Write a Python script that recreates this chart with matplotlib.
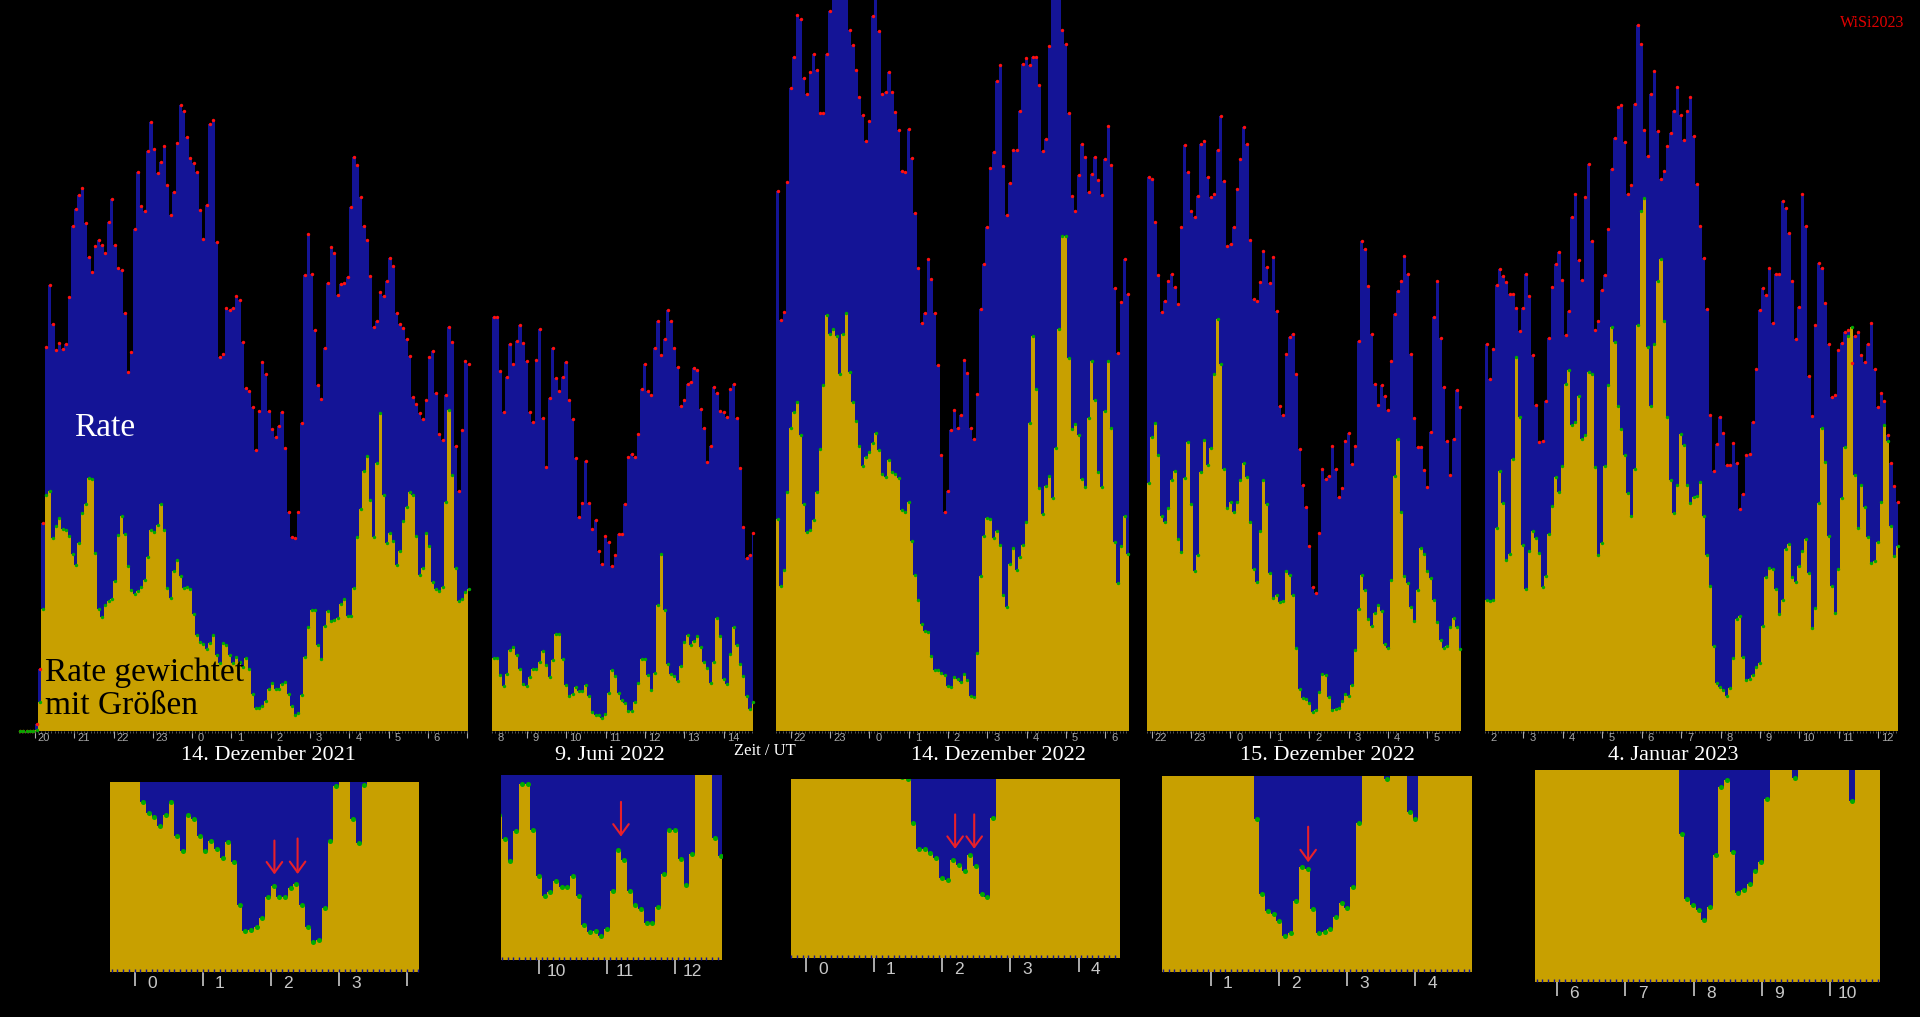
import numpy as np
import matplotlib
matplotlib.use("Agg")
import matplotlib.pyplot as plt

# Farben
BLAU = "#141496"
GELB = "#c8a000"
ROT = "#ff1010"
GRUEN = "#00aa00"
GRAU = "#a8a8a8"
PFEIL = "#e8202a"

BIN = 1 / 12  # 5-Minuten-Intervalle, Zeit in Stunden UT (fortlaufend ueber Mitternacht)

# 14. Dezember 2021 (Beginn 19:35 UT)
start_1 = 19.58
rate_1 = [0, 0, 0, 0, 0,
          15, 127, 429, 792, 919, 839, 785, 800, 787, 797,
          895, 1041, 1077, 1104, 1120, 1047, 977, 947, 999, 1013,
          1002, 986, 1050, 1097, 1001, 955, 950, 862, 741, 782,
          1035, 1152, 1082, 1071, 1196, 1255, 1199, 1150, 1174, 1205,
          1126, 1063, 1111, 1212, 1291, 1279, 1224, 1181, 1170, 1152,
          1074, 1015, 1085, 1251, 1259, 1009, 772, 778, 872, 867,
          873, 896, 888, 802, 708, 701, 667, 580, 660, 761,
          736, 659, 622, 607, 629, 658, 583, 452, 400, 398,
          451, 634, 941, 1025, 942, 826, 714, 685, 789, 924,
          998, 985, 899, 921, 923, 936, 1081, 1184, 1166, 1100,
          1042, 1013, 938, 832, 845, 906, 896, 927, 975, 959,
          862, 840, 830, 809, 773, 689, 674, 655, 643, 682,
          770, 784, 697, 612, 599, 692, 832, 802, 587, 495,
          620, 762, 757]
gew_1 = [0, 0, 0, 0, 0,
         2, 60, 252, 487, 495, 397, 422, 439, 417, 414,
         402, 364, 342, 387, 449, 467, 522, 519, 367, 252,
         234, 259, 269, 272, 309, 404, 444, 407, 340, 290,
         282, 289, 297, 311, 359, 414, 410, 424, 467, 414,
         294, 274, 329, 352, 319, 294, 297, 292, 242, 197,
         184, 179, 169, 182, 197, 157, 140, 182, 177, 157,
         140, 152, 142, 132, 150, 127, 77, 47, 48, 52,
         62, 87, 99, 87, 87, 97, 102, 77, 52, 34,
         37, 74, 152, 215, 249, 249, 177, 149, 217, 247,
         227, 229, 232, 262, 272, 237, 237, 295, 399, 457,
         537, 567, 477, 399, 552, 655, 487, 387, 409, 392,
         342, 372, 432, 462, 492, 487, 402, 322, 337, 409,
         382, 307, 292, 289, 297, 472, 662, 527, 337, 267,
         272, 287, 292]

# 9. Juni 2022 (Beginn 8:07 UT)
start_2 = 8.12
rate_2 = [853, 853,
          742, 658, 729, 797, 757, 805, 837, 800, 763, 658,
          636, 765, 828, 645, 544, 687, 790, 728, 700, 730,
          761, 683, 643, 563, 442, 471, 556, 471, 417, 435,
          372, 344, 402, 390, 341, 362, 407, 406, 468, 565,
          571, 565, 613, 706, 757, 701, 693, 789, 846, 775,
          809, 867, 845, 789, 751, 671, 682, 716, 719, 748,
          745, 663, 625, 554, 588, 710, 696, 660, 658, 648,
          705, 716, 645, 543, 420, 357, 362, 408]
gew_2 = [150, 150, 115, 93, 118, 167, 173, 157, 127, 97,
         92, 112, 127, 128, 143, 165, 137, 112, 147, 200,
         200, 148, 95, 73, 77, 90, 83, 83, 95, 73,
         40, 32, 33, 27, 35, 78, 125, 113, 78, 63,
         58, 42, 42, 60, 98, 148, 148, 115, 85, 120,
         260, 365, 250, 138, 118, 113, 103, 133, 183, 198,
         177, 185, 195, 173, 143, 130, 98, 143, 233, 195,
         107, 97, 158, 215, 178, 138, 113, 73, 45, 60]

# 14. Dezember 2022 (Beginn 21:37 UT)
start_3 = 21.62
rate_3 = [1113, 848, 864, 1131, 1325, 1389, 1477, 1467, 1347, 1314,
          1358, 1395, 1362, 1274, 1275, 1395, 1485, 1540, 1600, 1650,
          1580, 1560, 1445, 1415, 1363, 1306, 1270, 1217, 1257, 1473,
          1530, 1443, 1314, 1318, 1359, 1318, 1276, 1238, 1155, 1153,
          1242, 1182, 1068, 955, 841, 861, 974, 931, 862, 754,
          568, 452, 495, 621, 661, 625, 652, 765, 738, 625,
          601, 695, 870, 963, 1040, 1160, 1193, 1340, 1372, 1164,
          1063, 1129, 1198, 1198, 1278, 1375, 1387, 1372, 1389, 1390,
          1332, 1195, 1220, 1413, 1560, 1620, 1550, 1446, 1417, 1274,
          1102, 1073, 1147, 1211, 1183, 1112, 1149, 1183, 1135, 1104,
          1179, 1248, 1167, 913, 779, 885, 973, 901]
gew_3 = [437, 298, 332, 492, 625, 658, 678, 610, 467, 410,
         415, 435, 492, 582, 713, 857, 819, 829, 815, 735,
         819, 862, 740, 679, 639, 588, 546, 564, 575, 593,
         615, 579, 530, 524, 558, 533, 530, 522, 455, 452,
         473, 392, 322, 270, 220, 207, 205, 155, 125, 125,
         120, 115, 92, 90, 112, 107, 100, 118, 105, 73,
         70, 160, 320, 402, 439, 437, 398, 412, 383, 280,
         255, 345, 377, 332, 359, 383, 430, 634, 814, 705,
         500, 448, 505, 525, 480, 583, 828, 1020, 1021, 768,
         622, 632, 610, 520, 502, 645, 762, 683, 533, 502,
         660, 763, 625, 390, 305, 382, 443, 365]

# 15. Dezember 2022 (Beginn 21:53 UT)
start_4 = 21.88
rate_4 = [1142, 1137, 1050, 940, 864, 886, 927, 943, 916, 880,
          1038, 1209, 1153, 1073, 1059, 1103, 1210, 1217, 1143, 1100,
          1107, 1197, 1267, 1133, 999, 1004, 1039, 1118, 1179, 1245,
          1210, 1012, 891, 886, 926, 989, 957, 924, 978, 866,
          669, 652, 778, 813, 818, 736, 582, 508, 462, 382,
          297, 285, 408, 541, 520, 525, 587, 541, 483, 500,
          598, 614, 550, 588, 804, 1011, 994, 917, 819, 716,
          673, 713, 690, 662, 763, 860, 907, 927, 980, 942,
          777, 646, 586, 586, 538, 502, 616, 854, 927, 811,
          710, 597, 528, 602, 702, 667]
gew_4 = [512, 607, 635, 568, 443, 430, 460, 518, 535, 395,
         368, 522, 595, 469, 330, 363, 534, 600, 548, 583,
         737, 850, 757, 540, 460, 472, 452, 472, 518, 553,
         523, 430, 335, 308, 412, 518, 468, 325, 275, 280,
         265, 268, 330, 322, 280, 172, 87, 68, 65, 57,
         40, 43, 80, 118, 115, 70, 43, 45, 48, 62,
         77, 72, 95, 167, 252, 322, 290, 230, 217, 243,
         260, 247, 180, 172, 312, 525, 603, 452, 319, 305,
         255, 227, 290, 377, 365, 330, 315, 270, 225, 188,
         172, 175, 215, 233, 215, 170]

# 4. Januar 2023 (Beginn 2:02 UT)
start_5 = 2.03
rate_5 = [798, 725, 788, 920, 953, 938, 926, 900, 901, 873,
          825, 873, 943, 896, 776, 673, 595, 597, 681, 810,
          916, 962, 987, 930, 817, 865, 1060, 1108, 972, 930,
          1100, 1168, 1010, 827, 846, 910, 941, 1035, 1158, 1223,
          1286, 1290, 1215, 1107, 1125, 1293, 1455, 1416, 1240, 1185,
          1313, 1360, 1237, 1138, 1155, 1207, 1233, 1278, 1328, 1270,
          1218, 1278, 1308, 1226, 1128, 1041, 975, 869, 651, 535,
          591, 647, 615, 548, 548, 593, 553, 458, 489, 568,
          571, 637, 746, 867, 913, 898, 955, 842, 943, 942,
          1093, 1078, 1027, 928, 808, 875, 1107, 1041, 731, 650,
          836, 965, 955, 883, 798, 688, 692, 786, 800, 822,
          827, 758, 815, 823, 775, 761, 797, 841, 747, 668,
          696, 680, 610, 553, 505, 473]
gew_5 = [270, 268, 271, 418, 535, 471, 353, 365, 561, 771,
         648, 383, 293, 371, 413, 398, 366, 296, 320, 406,
         463, 523, 493, 546, 715, 745, 630, 638, 691, 601,
         610, 740, 736, 545, 363, 388, 546, 713, 833, 801,
         671, 623, 568, 490, 443, 541, 838, 1071, 1098, 791,
         671, 798, 928, 973, 846, 648, 518, 450, 508, 613,
         590, 508, 471, 483, 485, 513, 443, 363, 298, 175,
         98, 91, 85, 73, 88, 150, 230, 238, 153, 105,
         108, 115, 131, 141, 216, 318, 336, 335, 293, 241,
         270, 376, 385, 318, 308, 341, 371, 395, 325, 213,
         253, 470, 625, 555, 403, 298, 243, 333, 480, 586,
         815, 833, 528, 418, 508, 461, 400, 346, 351, 390,
         473, 631, 598, 423, 361, 381]

titles = ["14. Dezember 2021", "9. Juni 2022", "14. Dezember 2022",
          "15. Dezember 2022", "4. Januar 2023"]

# Stundenmarken oben
ticks_top = [list(range(20, 32)), list(range(8, 15)), list(range(22, 31)),
             list(range(22, 30)), list(range(2, 13))]
labels_top = [["20", "21", "22", "23", "0", "1", "2", "3", "4", "5", "6", ""],
              ["8", "9", "10", "11", "12", "13", "14"],
              ["22", "23", "0", "1", "2", "3", "4", "5", "6"],
              ["22", "23", "0", "1", "2", "3", "4", "5"],
              ["2", "3", "4", "5", "6", "7", "8", "9", "10", "11", "12"]]

# Stundenmarken der Ausschnitte
ticks_zoom = [[24, 25, 26, 27, 28], [10, 11, 12], [24, 25, 26, 27, 28],
              [25, 26, 27, 28], [6, 7, 8, 9, 10]]
labels_zoom = [["0", "1", "2", "3", ""], ["10", "11", "12"],
               ["0", "1", "2", "3", "4"], ["1", "2", "3", "4"],
               ["6", "7", "8", "9", "10"]]

# Pfeile in den Ausschnitten (Zeitpunkte in h)
pfeile = [[26.05, 26.39], [11.2], [26.19, 26.47], [26.43], []]

starts = [start_1, start_2, start_3, start_4, start_5]
rates = [rate_1, rate_2, rate_3, rate_4, rate_5]
gews = [gew_1, gew_2, gew_3, gew_4, gew_5]

# Layout in Pixeln
W, H = 1920, 1017
top_boxes = [(18.5, 449.5), (492, 260.7), (776, 352.7), (1147, 313.7), (1485, 412.7)]
top_xlim = [(19.58, 31.02), (8.12, 14.73), (21.62, 30.6), (21.88, 29.85), (2.03, 12.49)]
zoom_boxes = [(109.8, 782, 309.4, 189.7), (500.8, 775, 220.8, 185),
              (791.1, 779, 328.8, 179.3), (1161.6, 776, 310.9, 195.7),
              (1535, 770, 345, 211.7)]
zoom_xlim = [(23.634, 28.175), (9.436, 12.677), (23.784, 28.607),
             (24.278, 28.843), (5.673, 10.733)]
zoom_ytop = [220, 210, 205, 220, 250]
pfeil_y = [[(0.706, 0.498), (0.717, 0.5)], [(0.87, 0.652)],
           [(0.818, 0.595), (0.818, 0.595)], [(0.755, 0.545)], []]
title_x = [268, 610, 998, 1327, 1673]

fig = plt.figure(figsize=(W / 100, H / 100), dpi=100, facecolor="black")


def px_axes(left, top, width, height):
    ax = fig.add_axes([left / W, 1 - (top + height) / H, width / W, height / H])
    ax.set_facecolor("black")
    for s in ax.spines.values():
        s.set_visible(False)
    ax.set_yticks([])
    return ax


def draw(ax, start, rate, gew, size, clip):
    rate = np.asarray(rate, float)
    gew = np.asarray(gew, float)
    edges = start + BIN * np.arange(len(rate) + 1)
    mid = edges[:-1] + BIN / 2
    ax.stairs(rate, edges, fill=True, color=BLAU, lw=0)
    ax.stairs(gew, edges, fill=True, color=GELB, lw=0)
    ax.scatter(mid, rate, s=size, c=ROT, lw=0, zorder=3, clip_on=clip)
    ax.scatter(mid, gew, s=size, c=GRUEN, lw=0, zorder=4, clip_on=clip)
    return edges


def hour_labels(ax, hours, labels, size, dx, dy, color):
    x0, x1 = ax.get_xlim()
    for h, lab in zip(hours, labels):
        if h > x1:
            continue
        ax.annotate(lab, xy=(max(h, x0), 0), xycoords=("data", "axes fraction"),
                    xytext=(dx, dy), textcoords="offset pixels", ha="center", va="top",
                    fontsize=size, color=color, family="Liberation Sans",
                    annotation_clip=False)


for i in range(5):
    # Hauptdiagramme
    left, width = top_boxes[i]
    ax = px_axes(left, 0, width, 731)
    edges = draw(ax, starts[i], rates[i], gews[i], 6, False)
    ax.set_xticks(ticks_top[i])
    ax.set_xticks(edges, minor=True)
    ax.set_xlim(*top_xlim[i])
    ax.set_ylim(0, 1507)
    ax.tick_params(axis="x", which="major", length=5, width=0.8, color=GRAU,
                   labelbottom=False)
    ax.tick_params(axis="x", which="minor", length=1.2, width=0.6, color="#606060")
    hour_labels(ax, ticks_top[i], labels_top[i], 8, 9, -2, GRAU)

    # Ausschnitte
    left, top, width, height = zoom_boxes[i]
    bx = px_axes(left, top, width, height)
    edges = draw(bx, starts[i], rates[i], gews[i], 13, True)
    bx.set_xticks(ticks_zoom[i])
    bx.set_xticks(edges, minor=True)
    bx.set_xlim(*zoom_xlim[i])
    bx.set_ylim(0, zoom_ytop[i])
    bx.tick_params(axis="x", which="major", length=10, width=1.2, color="#c8c8c8",
                   labelbottom=False)
    bx.tick_params(axis="x", which="minor", length=2.5, width=1.0, color=BLAU,
                   direction="in")
    hour_labels(bx, ticks_zoom[i], labels_zoom[i], 12.5, 17, -4, "#c8c8c8")
    for h, (y0, y1) in zip(pfeile[i], pfeil_y[i]):
        bx.annotate("", xy=(h, y1), xytext=(h, y0),
                    xycoords=("data", "axes fraction"), textcoords=("data", "axes fraction"),
                    arrowprops=dict(arrowstyle="->,head_length=0.55,head_width=0.4",
                                    color=PFEIL, lw=1.5, mutation_scale=14),
                    annotation_clip=False)

    fig.text(title_x[i] / W, 1 - 755.5 / H, titles[i], ha="center", va="center",
             color="white", fontsize=16, family="Liberation Serif")

fig.text(764.6 / W, 1 - 750.6 / H, "Zeit / UT", ha="center", va="center",
         color="white", fontsize=12, family="Liberation Serif")
fig.text(74 / W, 1 - 428 / H, "Rate", ha="left", va="center",
         color="white", fontsize=24, family="Liberation Serif")
fig.text(45 / W, 1 - 689 / H, "Rate gewichtet\nmit Größen", ha="left", va="center",
         color="black", fontsize=24, family="Liberation Serif", linespacing=1.1)
fig.text(1872 / W, 1 - 22.8 / H, "WiSi2023", ha="center", va="center",
         color="#e00000", fontsize=11.5, family="Liberation Serif")

fig.savefig("out.png", dpi=100, facecolor="black")
